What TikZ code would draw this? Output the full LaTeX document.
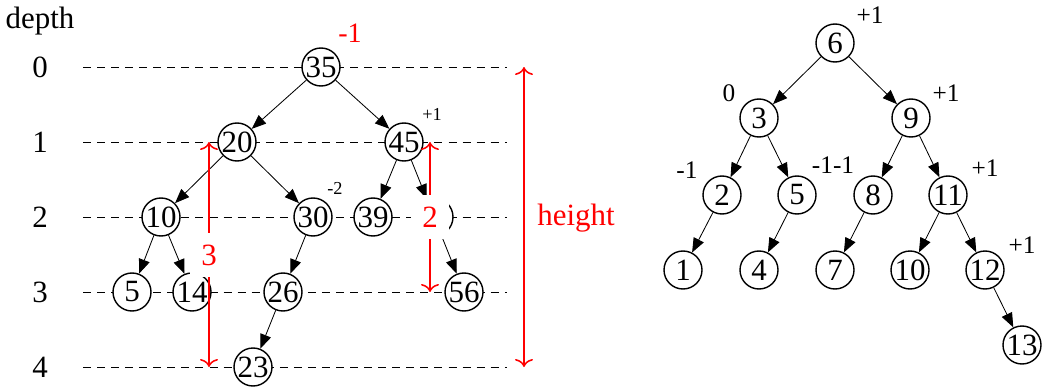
\documentclass[tikz,border=0pt]{standalone}
\usepackage{fontspec}
\setmainfont{Liberation Serif}
\usepackage{xcolor}
\definecolor{cMark}{HTML}{FF0000}
\usepackage{tikz}
\usetikzlibrary{positioning,arrows.meta}
\tikzset{
  node-key/.style={draw,line width=1pt,circle,fill=white,minimum size=9.5mm,
    inner sep=0pt,font=\fontsize{22}{24}\selectfont},
  arrow/.style={-{Triangle[length=3.6mm,width=2.8mm]},line width=0.6pt},
  arrow-measure/.style={{To[length=2mm,width=4.5mm]}-{To[length=2mm,width=4.5mm]},
    line width=1.1pt,draw=cMark},
  level-line/.style={dash pattern=on 5.7pt off 4.3pt,line width=0.6pt},
  text-big/.style={font=\fontsize{22}{24}\selectfont,inner sep=0pt},
  text-bf/.style={font=\fontsize{18}{20}\selectfont,inner sep=0pt},
  text-small/.style={font=\fontsize{13}{15}\selectfont,inner sep=0pt},
  % red figures sit on a white patch that cuts the measuring line
  measure-label/.style={font=\fontsize{22}{24}\selectfont,text=cMark,
    fill=white,inner xsep=2.9mm,inner ysep=3mm},
}

\begin{document}
\begin{tikzpicture}
  \useasboundingbox (0,0) rectangle (26.125,9.775);

  % depth scale and guide lines
  \node[text-big] (depth) at (1.0,9.26) {depth};
  \foreach \d/\y in {0/8.1,1/6.225,2/4.35,3/2.475,4/0.6} {
    \node[text-big] (d\d) at (1.0,\y) {\d};
    \coordinate (l\d-w) at (2.075,\y);
    \coordinate (l\d-e) at (12.675,\y);
    \draw[level-line] (l\d-w) -- (l\d-e);
  }

  % left tree
  \node[node-key] (n35) at (8.025,8.1) {35};
  \node[node-key] (n20) at (5.925,6.225) {20};
  \node[node-key] (n45) at (10.1,6.225) {45};
  \node[node-key] (n10) at (4.025,4.35) {10};
  \node[node-key] (n30) at (7.825,4.35) {30};
  \node[node-key] (n39) at (9.325,4.35) {39};
  \node[node-key] (n4x) at (10.85,4.35) {};
  \node[node-key] (n5) at (3.3,2.475) {5};
  \node[node-key] (n14) at (4.8,2.475) {14};
  \node[node-key] (n26) at (7.075,2.475) {26};
  \node[node-key] (n56) at (11.6,2.475) {56};
  \node[node-key] (n23) at (6.325,0.6) {23};
  \draw[arrow] (n35) -- (n20);
  \draw[arrow] (n35) -- (n45);
  \draw[arrow] (n20) -- (n10);
  \draw[arrow] (n20) -- (n30);
  \draw[arrow] (n45) -- (n39);
  \draw[arrow] (n45) -- (n4x);
  \draw[arrow] (n10) -- (n5);
  \draw[arrow] (n10) -- (n14);
  \draw[arrow] (n30) -- (n26);
  \draw[arrow] (n4x) -- (n56);
  \draw[arrow] (n26) -- (n23);

  \node[text-big,font=\fontsize{20}{22}\selectfont,text=cMark] (bf35) at (8.75,8.95) {-1};
  \node[text-small] (bf45) at (10.8,6.925) {+1};
  \node[text-small] (bf30) at (8.375,5.075) {-2};

  % heights
  \coordinate (m3-top) at (5.225,6.225);
  \coordinate (m3-bot) at (5.225,0.6);
  \coordinate (m2-top) at (10.75,6.225);
  \coordinate (m2-bot) at (10.75,2.475);
  \coordinate (mh-top) at (13.1,8.1);
  \coordinate (mh-bot) at (13.1,0.6);
  \draw[arrow-measure] (m3-top) -- (m3-bot);
  \draw[arrow-measure] (m2-top) -- (m2-bot);
  \draw[arrow-measure] (mh-top) -- (mh-bot);
  \node[measure-label] (h3) at (5.225,3.4) {3};
  \node[measure-label] (h2) at (10.75,4.35) {2};
  \node[text-big,text=cMark] (height) at (14.4,4.325) {height};

  % right tree
  \node[node-key] (r6) at (20.875,8.7) {6};
  \node[node-key] (r3) at (18.975,6.825) {3};
  \node[node-key] (r9) at (22.775,6.825) {9};
  \node[node-key] (r2) at (18.05,4.9) {2};
  \node[node-key] (r5) at (19.925,4.9) {5};
  \node[node-key] (r8) at (21.825,4.9) {8};
  \node[node-key] (r11) at (23.7,4.9) {11};
  \node[node-key] (r1) at (17.075,3.025) {1};
  \node[node-key] (r4) at (18.975,3.025) {4};
  \node[node-key] (r7) at (20.875,3.025) {7};
  \node[node-key] (r10) at (22.75,3.025) {10};
  \node[node-key] (r12) at (24.625,3.025) {12};
  \node[node-key] (r13) at (25.55,1.15) {13};
  \draw[arrow] (r6) -- (r3);
  \draw[arrow] (r6) -- (r9);
  \draw[arrow] (r3) -- (r2);
  \draw[arrow] (r3) -- (r5);
  \draw[arrow] (r9) -- (r8);
  \draw[arrow] (r9) -- (r11);
  \draw[arrow] (r2) -- (r1);
  \draw[arrow] (r5) -- (r4);
  \draw[arrow] (r8) -- (r7);
  \draw[arrow] (r11) -- (r10);
  \draw[arrow] (r11) -- (r12);
  \draw[arrow] (r12) -- (r13);

  \node[text-bf] (bf6) at (21.75,9.4) {+1};
  \node[text-bf] (bf3) at (18.225,7.45) {0};
  \node[text-bf] (bf9) at (23.65,7.45) {+1};
  \node[text-bf] (bf2) at (17.175,5.525) {-1};
  \node[text-bf] (bf58) at (20.825,5.65) {-1-1};
  \node[text-bf] (bf11) at (24.625,5.575) {+1};
  \node[text-bf] (bf12) at (25.55,3.65) {+1};
\end{tikzpicture}
\end{document}
